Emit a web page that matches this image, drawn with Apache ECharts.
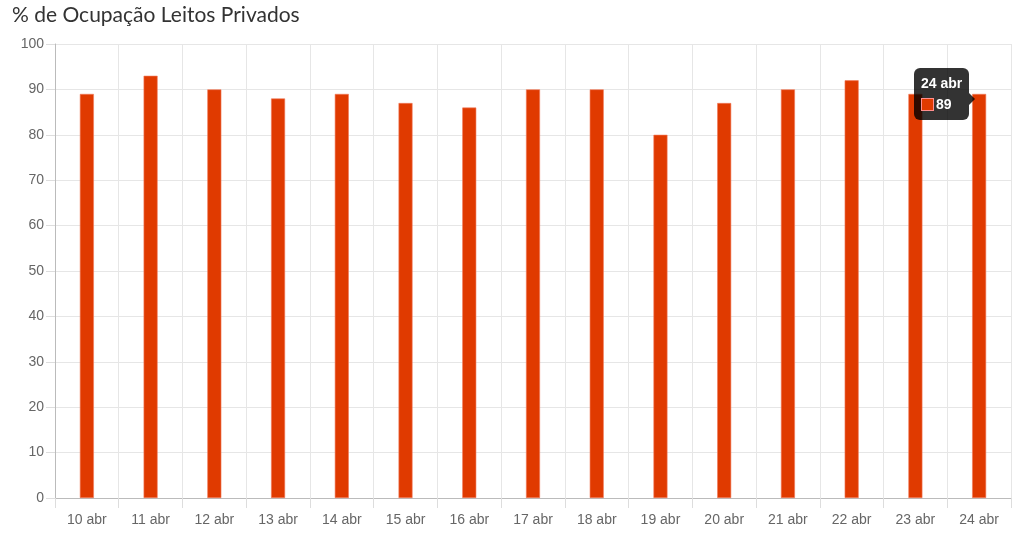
<!DOCTYPE html>
<html>
<head>
<meta charset="utf-8">
<script src="https://cdn.jsdelivr.net/npm/echarts@6/dist/echarts.min.js"></script>
<style>
html,body{margin:0;padding:0;background:#fff;}
#chart{width:1024px;height:539px;}
</style>
</head>
<body>
<div id="chart"></div>
<script>
const categories = ['10 abr','11 abr','12 abr','13 abr','14 abr','15 abr','16 abr','17 abr','18 abr','19 abr','20 abr','21 abr','22 abr','23 abr','24 abr'];
const occupancy = [89, 93, 90, 88, 89, 87, 86, 90, 90, 80, 87, 90, 92, 89, 89];
const yTicks = { min: 0, max: 100, interval: 10 };
const titleText = '% de Ocupação Leitos Privados';

const chart = echarts.init(document.getElementById('chart'));
const option = {
  animation: false,
  title: {
    text: titleText,
    left: 7, top: 0,
    textStyle: { fontFamily: 'Lato', fontWeight: 'normal', fontSize: 21, color: '#333' }
  },
  grid: { left: 55, right: 13, top: 44, bottom: 41 },
  tooltip: {
    trigger: 'item',
    alwaysShowContent: true,
    backgroundColor: 'rgba(0,0,0,0.8)',
    borderWidth: 0,
    padding: [6, 7, 6, 7],
    extraCssText: 'border-radius:6px;box-shadow:none;overflow:visible;',
    textStyle: { color: '#fff', fontFamily: 'Liberation Sans, Arial', fontSize: 14 },
    position: function () { return [914, 68]; },
    formatter: function (p) {
      return '<div style="position:relative;line-height:19px;">' +
        '<div style="font-weight:bold;font-size:14px;padding-bottom:2px;">' + p.name + '</div>' +
        '<div style="font-size:14px;font-weight:bold;"><span style="display:inline-block;width:11px;height:11px;background:#e03a00;border:1.5px solid #ff8f8f;vertical-align:-2px;margin-right:2px;"></span>' + p.value + '</div>' +
        '<div style="position:absolute;right:-13px;top:19px;width:0;height:0;border-top:6px solid transparent;border-bottom:6px solid transparent;border-left:6px solid rgba(0,0,0,0.8);"></div>' +
        '</div>';
    }
  },
  xAxis: {
    type: 'category',
    data: categories,
    boundaryGap: true,
    axisLine: { lineStyle: { color: '#bbb' } },
    axisTick: { show: true, length: 10, lineStyle: { color: '#ddd' } },
    axisLabel: { color: '#666', fontFamily: 'Liberation Sans, Arial', fontSize: 14, margin: 15 },
    splitLine: { show: true, lineStyle: { color: '#e6e6e6' } }
  },
  yAxis: {
    type: 'value',
    min: yTicks.min, max: yTicks.max, interval: yTicks.interval,
    axisLine: { show: true, lineStyle: { color: '#bbb' } },
    axisTick: { show: true, length: 9, lineStyle: { color: '#ddd' } },
    axisLabel: { color: '#666', fontFamily: 'Liberation Sans, Arial', fontSize: 14, margin: 11 },
    splitLine: { show: true, lineStyle: { color: '#e6e6e6' } }
  },
  series: [{
    type: 'bar',
    data: occupancy,
    barWidth: 14,
    itemStyle: { color: '#e03a00', borderColor: '#f27a5a', borderWidth: 0.6 }
  }]
};
chart.setOption(option);
setTimeout(function () {
  chart.dispatchAction({ type: 'showTip', seriesIndex: 0, dataIndex: 14 });
}, 50);
</script>
</body>
</html>
